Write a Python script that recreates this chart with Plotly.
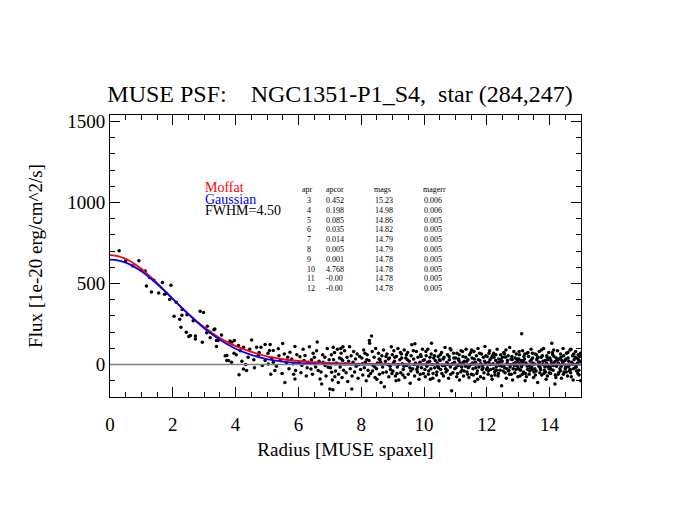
import plotly.graph_objects as go

# ---- data ----
# profile points (radius [spaxel], flux [1e-20 erg/cm^2/s])
core_pts = [(0.29, 702), (0.5, 640), (0.73, 608), (0.92, 640), (1.0, 585), (1.12, 578), (1.16, 485),
            (1.26, 537), (1.32, 448), (1.4, 520), (1.55, 442), (1.67, 506), (1.74, 434), (1.8, 440),
            (1.9, 401), (1.94, 490), (2.04, 298), (2.11, 384), (2.22, 279), (2.26, 231), (2.29, 304),
            (2.3, 340), (2.43, 200), (2.45, 308), (2.51, 174), (2.56, 180), (2.65, 270), (2.72, 176),
            (2.72, 158), (2.87, 329), (2.94, 138), (2.98, 322), (3.08, 196), (3.1, 236), (3.19, 200),
            (3.19, 165), (3.31, 215), (3.34, 220), (3.39, 149), (3.39, 112), (3.44, 149), (3.55, 182),
            (3.67, 54), (3.72, 25), (3.72, 56)]
pts_4_7 = [(3.77, 25), (3.82, 145), (3.87, 14), (3.88, 138), (3.95, 70), (3.96, 149), (4.02, 60),
           (4.09, 118), (4.11, -62), (4.15, 85), (4.2, 20), (4.25, 107), (4.25, -27), (4.32, 0),
           (4.35, -37), (4.4, 45), (4.45, 95), (4.51, 151), (4.58, 30), (4.6, -20), (4.67, 107),
           (4.72, 56), (4.75, 75), (4.81, 107), (4.85, -5), (4.94, 124), (4.94, 25), (5.03, 70),
           (5.04, 4), (5.08, 87), (5.1, 124), (5.12, -60), (5.15, 40), (5.2, 87), (5.2, 14),
           (5.25, -37), (5.3, -10), (5.36, 97), (5.38, 55), (5.42, 25), (5.48, -55), (5.5, 130),
           (5.55, 66), (5.57, -110), (5.62, 10), (5.66, 45), (5.7, -25), (5.73, 76), (5.79, 35),
           (5.83, 5), (5.85, -60), (5.89, 111), (5.89, -89), (5.91, -37), (5.95, 60), (6.02, 15),
           (6.05, 49), (6.08, -50), (6.11, -6), (6.15, 95), (6.18, 25), (6.21, 56), (6.25, -70),
           (6.28, -20), (6.31, 14), (6.35, 110), (6.4, -27), (6.42, 30), (6.45, -60), (6.47, 70),
           (6.5, 5), (6.51, 45), (6.55, -15), (6.58, 85), (6.6, 140), (6.63, -37), (6.66, 20),
           (6.69, -89), (6.72, -45), (6.74, -120), (6.77, 60), (6.79, 14), (6.84, 45), (6.85, -5),
           (6.88, -70), (6.92, 100), (6.95, -17), (6.98, 30)]
pts_7_9 = [(7.0, -151), (7.02, -20), (7.05, 60), (7.06, -48), (7.08, -95), (7.1, -155), (7.11, 107),
           (7.12, 30), (7.15, 75), (7.16, -75), (7.18, -40), (7.21, 10), (7.24, 95), (7.27, -110),
           (7.28, -60), (7.31, 40), (7.33, -15), (7.35, 100), (7.36, 70), (7.37, 35), (7.39, -80),
           (7.41, 25), (7.42, 110), (7.44, -35), (7.47, 85), (7.49, 5), (7.52, -50), (7.55, 45),
           (7.57, -105), (7.6, 20), (7.63, 110), (7.65, -25), (7.68, 55), (7.7, -151), (7.71, -70),
           (7.74, 15), (7.76, 80), (7.79, -45), (7.82, 35), (7.84, -10), (7.87, 65), (7.9, -85),
           (7.92, 0), (7.95, 50), (7.98, -30),
           (8.02, 40), (8.04, 5), (8.05, -65), (8.08, 90), (8.1, -20), (8.12, 70), (8.13, 15),
           (8.16, -100), (8.18, 30), (8.19, 60), (8.22, -35), (8.24, -70), (8.25, 25), (8.26, 149),
           (8.27, 132), (8.3, -55), (8.33, 176), (8.35, 80), (8.36, -40), (8.38, -5), (8.41, 45),
           (8.43, -15), (8.44, -80), (8.46, 100), (8.49, -25), (8.5, -90), (8.52, 10), (8.55, 70),
           (8.57, 35), (8.58, -60), (8.6, 30), (8.62, 15), (8.63, -110), (8.66, 55), (8.68, -15),
           (8.69, -50), (8.71, 90), (8.74, -136), (8.77, 20), (8.79, 50), (8.8, -45), (8.82, 65),
           (8.85, 0), (8.87, 35), (8.88, -75), (8.9, 40), (8.92, -10), (8.93, -30), (8.96, 110),
           (8.98, -55), (8.99, 60)]
pts_9_11 = [(9.01, -40), (9.03, 10), (9.04, 85), (9.06, 20), (9.07, 45), (9.09, -70), (9.11, -100),
            (9.12, 50), (9.14, -55), (9.15, -15), (9.17, 100), (9.19, 0), (9.2, -95), (9.23, 30),
            (9.25, 75), (9.26, -50), (9.28, 65), (9.29, 40), (9.31, 5), (9.33, -65), (9.34, -30),
            (9.36, -10), (9.37, 90), (9.39, -80), (9.42, 40), (9.44, 60), (9.45, -5), (9.47, 30),
            (9.48, 75), (9.5, -60), (9.53, 20), (9.55, -20), (9.56, -115), (9.58, -40), (9.59, 55),
            (9.61, 122), (9.64, -25), (9.66, 85), (9.67, 35), (9.69, 0), (9.7, -70), (9.71, 128),
            (9.73, 10), (9.76, 80), (9.77, -30), (9.79, -45), (9.8, -15), (9.81, 45), (9.84, -90),
            (9.87, 15), (9.88, -60), (9.89, 60), (9.91, 50), (9.92, -20), (9.95, 95), (9.97, 25),
            (9.98, -55),
            (10.01, 30), (10.03, -30), (10.04, -75), (10.06, 80), (10.07, 55), (10.09, -10),
            (10.11, 15), (10.12, 95), (10.14, -60), (10.15, -40), (10.18, 20), (10.19, 45),
            (10.2, -90), (10.22, -25), (10.23, 65), (10.24, 132), (10.26, 0), (10.28, -85),
            (10.29, -55), (10.31, 40), (10.33, 55), (10.34, -20), (10.36, 25), (10.37, 85),
            (10.4, -65), (10.41, -45), (10.42, 10), (10.44, -10), (10.45, 50), (10.46, -20),
            (10.48, -100), (10.49, 30), (10.51, 25), (10.52, 60), (10.53, -30), (10.56, 75),
            (10.57, -55), (10.59, -5), (10.61, 35), (10.62, -70), (10.64, 45), (10.66, -5),
            (10.67, 105), (10.69, -25), (10.7, -45), (10.73, 15), (10.74, -35), (10.75, 60),
            (10.77, 0), (10.78, -85), (10.8, 50), (10.81, 30), (10.83, 100), (10.84, -15),
            (10.85, -60), (10.86, 90), (10.88, -161), (10.9, 5), (10.92, -50), (10.94, 70),
            (10.95, 40), (10.97, 15), (10.98, -25)]
pts_11_13 = [(11.01, 40), (11.02, -20), (11.04, -75), (11.05, 70), (11.07, -55), (11.09, -5),
             (11.1, 35), (11.11, 25), (11.12, 60), (11.13, -95), (11.15, 10), (11.17, -45),
             (11.18, 85), (11.2, -15), (11.21, -35), (11.23, 80), (11.24, 50), (11.25, 15),
             (11.26, -70), (11.28, -40), (11.29, 20), (11.32, -10), (11.33, 45), (11.34, 95),
             (11.36, 20), (11.37, -45), (11.39, -60), (11.4, 30), (11.41, -20), (11.43, -80),
             (11.44, -10), (11.45, 60), (11.48, 0), (11.49, 75), (11.51, -60), (11.52, 90),
             (11.53, 40), (11.55, 10), (11.56, -25), (11.57, -65), (11.59, 80), (11.6, 35),
             (11.62, -105), (11.64, 15), (11.65, -20), (11.67, 55), (11.68, -55), (11.7, -40),
             (11.71, -90), (11.72, 100), (11.73, 30), (11.75, -15), (11.77, 70), (11.78, 25),
             (11.8, -75), (11.81, 5), (11.83, 65), (11.85, -30), (11.86, -5), (11.88, -20),
             (11.89, 45), (11.9, -85), (11.91, -50), (11.93, 20), (11.94, 112), (11.96, 10),
             (11.97, 55), (11.99, -30),
             (12.01, 50), (12.02, -20), (12.04, -60), (12.05, -40), (12.06, 15), (12.07, 70),
             (12.09, 85), (12.1, 30), (12.12, -30), (12.13, 0), (12.14, 40), (12.15, -70),
             (12.17, -90), (12.18, 55), (12.2, 5), (12.21, -25), (12.22, 70), (12.23, 45),
             (12.25, -45), (12.26, -65), (12.28, 25), (12.29, 60), (12.3, -15), (12.31, -35),
             (12.33, 95), (12.34, 10), (12.36, -70), (12.37, -55), (12.38, 35), (12.4, 15),
             (12.41, -5), (12.42, -35), (12.44, 60), (12.45, 30), (12.47, -130), (12.48, -10),
             (12.49, 20), (12.5, 45), (12.52, -40), (12.53, -5), (12.54, 75), (12.56, 65),
             (12.57, -20), (12.58, -50), (12.6, 45), (12.61, 90), (12.62, -85), (12.64, -25),
             (12.65, 10), (12.66, 25), (12.68, 55), (12.69, -40), (12.7, -35), (12.72, -60),
             (12.73, 105), (12.74, -15), (12.76, 0), (12.77, 35), (12.78, -60), (12.8, 50),
             (12.81, 30), (12.82, -95), (12.84, -25), (12.85, 5), (12.86, 80), (12.88, -5),
             (12.89, -50), (12.9, 40), (12.92, 15), (12.93, -30), (12.94, 65), (12.96, 35),
             (12.97, -10), (12.98, 20), (12.99, -75)]
pts_13_15 = [(13.01, -25), (13.02, 35), (13.03, 80), (13.04, 60), (13.05, 5), (13.06, -70),
             (13.07, -35), (13.09, 25), (13.1, -15), (13.11, 190), (13.12, -5), (13.13, -60),
             (13.14, 85), (13.15, 15), (13.16, 25), (13.17, -45), (13.18, 50), (13.2, 35),
             (13.21, 65), (13.22, -100), (13.23, -55), (13.25, 10), (13.26, -75), (13.28, 70),
             (13.29, -10), (13.3, -30), (13.31, 75), (13.33, 50), (13.34, -5), (13.35, -60),
             (13.37, -40), (13.38, 20), (13.39, -20), (13.41, 95), (13.42, 30), (13.43, -15),
             (13.44, -30), (13.45, 70), (13.46, 40), (13.47, 10), (13.49, -80), (13.5, -45),
             (13.51, 5), (13.53, -25), (13.54, 65), (13.55, -65), (13.57, -40), (13.58, 60),
             (13.59, 30), (13.61, 40), (13.62, -110), (13.63, 45), (13.65, 15), (13.66, -10),
             (13.67, 80), (13.68, 15), (13.69, -50), (13.7, -20), (13.71, -30), (13.73, 45),
             (13.74, 90), (13.75, -65), (13.77, 55), (13.78, 0), (13.79, 20), (13.81, 100),
             (13.82, -55), (13.83, -35), (13.85, -15), (13.86, 25), (13.87, -45), (13.89, -90),
             (13.9, 10), (13.91, 55), (13.92, 45), (13.93, -70), (13.94, -10), (13.95, 30),
             (13.97, 75), (13.98, -25), (13.99, -50),
             (14.01, 40), (14.02, -15), (14.03, -55), (14.04, 25), (14.05, -30), (14.06, 10),
             (14.07, 132), (14.09, 75), (14.1, 60), (14.11, -35), (14.12, -5), (14.13, 90),
             (14.14, 50), (14.15, 15), (14.17, -120), (14.18, -65), (14.19, 20), (14.2, -80),
             (14.21, 40), (14.22, -10), (14.25, 85), (14.26, 30), (14.27, -60), (14.28, 10),
             (14.29, -50), (14.3, 35), (14.33, -25), (14.34, -40), (14.35, 65), (14.36, 45),
             (14.37, -10), (14.38, -85), (14.39, 25), (14.41, 5), (14.42, 15), (14.43, 100),
             (14.44, -60), (14.45, 55), (14.46, -45), (14.49, 25), (14.5, -25), (14.51, -15),
             (14.52, 35), (14.53, -45), (14.54, 70), (14.57, -70), (14.58, 75), (14.59, 40),
             (14.6, -15), (14.61, 20), (14.62, -5), (14.63, -40), (14.65, 90), (14.66, -30),
             (14.67, -50), (14.68, 95), (14.69, -75), (14.7, 15), (14.73, 55), (14.74, 5),
             (14.75, -95), (14.76, -25), (14.77, 65), (14.78, 30), (14.81, -20), (14.82, 45),
             (14.83, 80), (14.84, 0), (14.85, -15), (14.86, -40), (14.87, 40), (14.89, 10),
             (14.9, -55), (14.91, 60), (14.92, 30), (14.93, -35), (14.94, -65), (14.96, 50),
             (14.97, 20), (14.98, 70), (14.99, -100)]

# fitted profiles, sampled off the plotted curves
r_model = [0, 0.25, 0.5, 0.75, 1, 1.25, 1.5, 1.75, 2, 2.25, 2.5, 2.75, 3, 3.25, 3.5, 3.75, 4,
           4.5, 5, 5.5, 6, 6.5, 7, 8, 9, 10, 11, 12, 13, 14, 15]
moffat = [675, 669, 652, 625, 590, 549, 503, 455, 406, 358, 312, 269, 230, 195, 164, 137, 114,
          79, 50, 33, 22, 15, 10, 5, 3, 2, 1, 1, 1, 1, 1]
gauss = [648, 643, 629, 606, 576, 539, 497, 452, 405, 357, 310, 266, 224, 187, 153, 124, 98,
         60, 34, 18, 9, 4.5, 2, 0.3, 0, 0, 0, 0, 0, 0, 0]

# aperture correction table
apr = [3, 4, 5, 6, 7, 8, 9, 10, 11, 12]
apcor = ["0.452", "0.198", "0.085", "0.035", "0.014", "0.005", "0.001", "4.768", "-0.00", "-0.00"]
mags = ["15.23", "14.98", "14.86", "14.82", "14.79", "14.79", "14.78", "14.78", "14.78", "14.78"]
magerr = ["0.006", "0.006", "0.005", "0.005", "0.005", "0.005", "0.005", "0.005", "0.005", "0.005"]

FONT = "Liberation Serif"
OFF = 8  # the page body adds an 8px margin, so pull the figure back by that much

all_pts = core_pts + pts_4_7 + pts_7_9 + pts_9_11 + pts_11_13 + pts_13_15
rad = [p[0] for p in all_pts]
flux = [p[1] for p in all_pts]

fig = go.Figure()

fig.add_hline(y=0, line_color="#808080", line_width=1.5)

fig.add_trace(go.Scatter(x=rad, y=flux, mode="markers",
                         marker=dict(color="black", size=3.5, line_width=0)))
fig.add_trace(go.Scatter(x=r_model, y=moffat, mode="lines", line_shape="spline",
                         line=dict(color="#ff0000", width=1.8)))
fig.add_trace(go.Scatter(x=r_model, y=gauss, mode="lines", line_shape="spline",
                         line=dict(color="#0000ff", width=1.8)))

# legend-ish labels
for txt, col, yy in [("Moffat", "#ff0000", 1093), ("Gaussian", "#0000ff", 1017),
                     ("FWHM=4.50", "black", 949)]:
    fig.add_annotation(x=2.96, y=yy, text=txt, showarrow=False, xanchor="left", yanchor="middle",
                       font=dict(family=FONT, size=14, color=col))

# table
col_x = [6.05, 6.82, 8.33, 9.91]
row0, drow = 1012, 60.4
for hdr, cx in zip(["apr", "apcor", "mags", "magerr"], col_x):
    fig.add_annotation(x=cx, y=1079, text=hdr, showarrow=False, xanchor="left", yanchor="middle",
                       font=dict(family=FONT, size=8, color="black"))
for i in range(len(apr)):
    yy = row0 - i * drow
    row = [str(apr[i]), apcor[i], mags[i], magerr[i]]
    for val, cx in zip(row, [6.21, 6.82, 8.38, 9.93]):
        fig.add_annotation(x=cx, y=yy, text=val, showarrow=False, xanchor="left", yanchor="middle",
                           font=dict(family=FONT, size=8, color="black"))

axis_common = dict(showgrid=False, zeroline=False, showline=True, linecolor="black", linewidth=1,
                   mirror="allticks", ticks="inside", ticklen=10, tickcolor="black",
                   tickfont=dict(family=FONT, size=19, color="black"))

fig.update_xaxes(range=[0, 15], dtick=2, tick0=0, ticklabelstandoff=10,
                 minor=dict(dtick=0.5, ticks="inside", ticklen=5, tickcolor="black"),
                 title=dict(text="Radius [MUSE spaxel]", font=dict(family=FONT, size=19, color="black"),
                            standoff=8),
                 **axis_common)
fig.update_yaxes(range=[-200, 1540], tickvals=[0, 500, 1000, 1500],
                 minor=dict(dtick=100, tick0=0, ticks="inside", ticklen=5, tickcolor="black"),
                 title=dict(text="Flux [1e-20 erg/cm^2/s]", font=dict(family=FONT, size=19, color="black"),
                            standoff=19),
                 **axis_common)

fig.update_layout(
    width=675, height=521,
    margin=dict(l=110 - OFF, r=94 + OFF, t=115 - OFF, b=124 + OFF),
    paper_bgcolor="white", plot_bgcolor="white",
    showlegend=False,
    title=dict(text="MUSE PSF:\u00a0\u00a0\u00a0 NGC1351-P1_S4,\u00a0 star (284,247)",
               x=(340 - OFF) / 675, xref="container", xanchor="center",
               y=1 - (94 - OFF) / 521, yref="container", yanchor="middle",
               font=dict(family=FONT, size=24, color="black")),
)

fig.write_html("out.html")
